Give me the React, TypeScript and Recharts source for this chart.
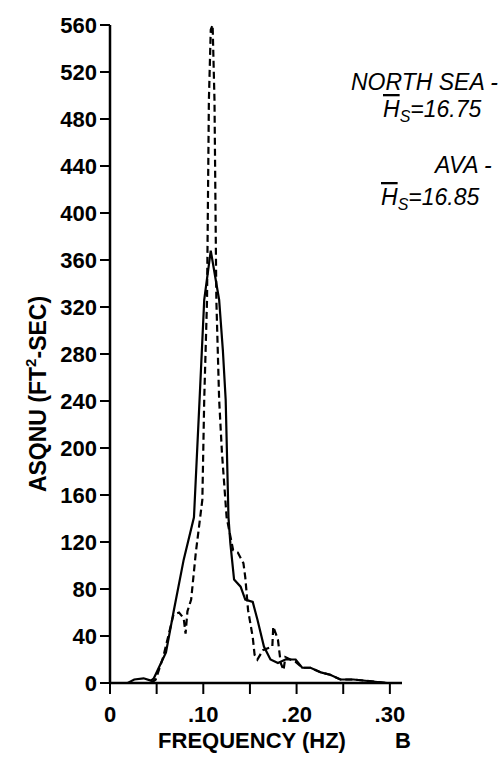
import React from "react";
import { LineChart, Line, XAxis, YAxis, Customized } from "recharts";

// North Sea spectrum (solid)
const northSeaFreq = [0, 0.019, 0.026, 0.036, 0.044, 0.047, 0.06, 0.068, 0.079, 0.09, 0.096, 0.101, 0.108, 0.117, 0.121, 0.124, 0.127, 0.129, 0.133, 0.14, 0.145, 0.153, 0.158, 0.165, 0.172, 0.18, 0.188, 0.199, 0.206, 0.215, 0.226, 0.236, 0.247, 0.261, 0.297, 0.313];
const northSeaAsqnu = [0, 0, 3, 4, 2, 4, 26, 60, 105, 141, 241, 326, 368, 326, 283, 241, 141, 119, 88, 82, 71, 69, 54, 31, 20, 17, 20, 20, 13, 13, 9, 7, 3, 3, 0, 0];

// AVA spectrum (dashed)
const avaFreq = [0.044, 0.049, 0.057, 0.068, 0.074, 0.079, 0.081, 0.083, 0.087, 0.092, 0.099, 0.101, 0.104, 0.105, 0.106, 0.108, 0.11, 0.112, 0.113, 0.114, 0.117, 0.12, 0.125, 0.132, 0.137, 0.143, 0.145, 0.148, 0.153, 0.155, 0.158, 0.164, 0.174, 0.175, 0.18, 0.183, 0.186, 0.188, 0.199, 0.206, 0.215, 0.226, 0.236, 0.247, 0.261, 0.297, 0.313];
const avaAsqnu = [0, 3, 22, 58, 60, 55, 42, 61, 71, 111, 156, 241, 326, 411, 496, 556, 560, 496, 411, 326, 241, 196, 141, 113, 111, 102, 90, 62, 39, 24, 20, 28, 31, 48, 37, 17, 11, 22, 18, 13, 13, 9, 7, 3, 3, 0, 0];

const yTicks = [0, 40, 80, 120, 160, 200, 240, 280, 320, 360, 400, 440, 480, 520, 560];
const xTicks = [0, 0.05, 0.1, 0.15, 0.2, 0.25, 0.3];
const xTickLabels: Record<string, string> = { "0": "0", "0.1": ".10", "0.2": ".20", "0.3": ".30" };

const northSea = northSeaFreq.map((f, i) => ({ f, v: northSeaAsqnu[i] }));
const ava = avaFreq.map((f, i) => ({ f, v: avaAsqnu[i] }));

const axisFont = { fill: "#000", fontSize: 22, fontWeight: "bold", fontFamily: "Liberation Sans" };
const legendFont = { fill: "#000", fontSize: 23, fontStyle: "italic", fontFamily: "Liberation Sans" };

const Annotations = () => (
  <g>
    <text x={38} y={394} transform="rotate(-90 38 394)" textAnchor="middle" dominantBaseline="central" {...axisFont} fontSize={23}>
      ASQNU (FT<tspan fontSize={15} dy={-8}>2</tspan>
      <tspan dy={8}>-SEC)</tspan>
    </text>
    <text x={252} y={748} textAnchor="middle" {...axisFont}>FREQUENCY (HZ)</text>
    <text x={395} y={748} {...axisFont}>B</text>

    <text x={351} y={90} {...legendFont}>NORTH SEA -</text>
    <text x={383} y={117} {...legendFont}>
      <tspan textDecoration="overline">H</tspan>
      <tspan fontSize={16} dy={5}>S</tspan>
      <tspan dy={-5}>=16.75</tspan>
    </text>
    <text x={435} y={173} {...legendFont}>AVA -</text>
    <text x={381} y={205} {...legendFont}>
      <tspan textDecoration="overline">H</tspan>
      <tspan fontSize={16} dy={5}>S</tspan>
      <tspan dy={-5}>=16.85</tspan>
    </text>
  </g>
);

export default function App() {
  return (
    <div style={{ position: "absolute", left: 0, top: 0, background: "#fff" }}>
      <LineChart width={500} height={772} margin={{ top: 25, right: 98, bottom: 59, left: 50 }}>
        <XAxis
          type="number"
          dataKey="f"
          domain={[0, 0.313]}
          ticks={xTicks}
          interval={0}
          allowDataOverflow
          tickFormatter={(t: number) => xTickLabels[String(Math.round(t * 100) / 100)] ?? ""}
          tick={axisFont}
          tickSize={11}
          tickMargin={12}
          height={30}
          axisLine={{ stroke: "#000", strokeWidth: 2.5 }}
          tickLine={{ stroke: "#000", strokeWidth: 2 }}
        />
        <YAxis
          type="number"
          dataKey="v"
          domain={[0, 560]}
          ticks={yTicks}
          interval={0}
          width={60}
          tick={axisFont}
          tickSize={10}
          tickMargin={3}
          axisLine={{ stroke: "#000", strokeWidth: 2.5 }}
          tickLine={{ stroke: "#000", strokeWidth: 2 }}
        />
        <Line
          data={northSea}
          dataKey="v"
          type="linear"
          stroke="#000"
          strokeWidth={2.2}
          dot={false}
          isAnimationActive={false}
        />
        <Line
          data={ava}
          dataKey="v"
          type="linear"
          stroke="#000"
          strokeWidth={2.2}
          strokeDasharray="7 4"
          dot={false}
          isAnimationActive={false}
        />
        <Customized component={Annotations} />
      </LineChart>
    </div>
  );
}
